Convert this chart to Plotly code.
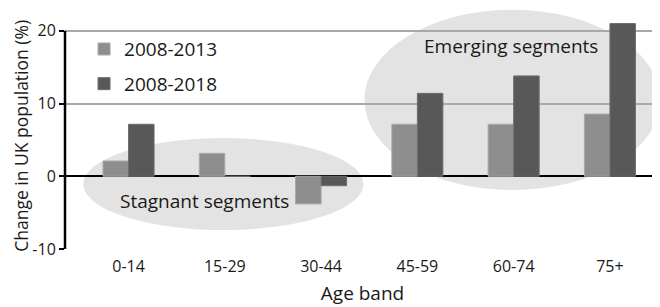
import plotly.graph_objects as go

categories = ["0-14", "15-29", "30-44", "45-59", "60-74", "75+"]
change_2013 = [2.1, 3.15, -3.8, 7.15, 7.15, 8.55]
change_2018 = [7.15, 0.0, -1.3, 11.4, 13.8, 21.0]
y_ticks = [-10, 0, 10, 20]

FONT = "Open Sans"

fig = go.Figure()
fig.add_trace(go.Bar(x=categories, y=change_2013, name="2008-2013", legendgroup="a",
                     marker=dict(color="#8e8e8e", line=dict(color="#a8a8a8", width=1)),
                     cliponaxis=False))
fig.add_trace(go.Bar(x=categories, y=change_2018, name="2008-2018", legendgroup="b",
                     marker=dict(color="#585858", line=dict(color="#6e6e6e", width=1)),
                     cliponaxis=False))

# highlight ellipses
fig.add_shape(type="circle", xref="x", yref="y", x0=-0.47, x1=2.44, y0=-7.4, y1=5.25,
              fillcolor="#e3e3e3", line=dict(width=0), layer="below")
fig.add_shape(type="circle", xref="x", yref="y", x0=2.45, x1=5.52, y0=-1.9, y1=22.9,
              fillcolor="#e3e3e3", line=dict(width=0), layer="below")
# left axis line from -10 to 20
fig.add_shape(type="line", xref="paper", yref="y", x0=0, x1=0, y0=-10, y1=20,
              line=dict(color="black", width=2.5))

fig.add_annotation(x=3.97, y=17.9, xref="x", yref="y", text="Emerging segments",
                   showarrow=False, font=dict(family=FONT, size=19, color="#1a1a1a"))
fig.add_annotation(x=0.79, y=-3.45, xref="x", yref="y", text="Stagnant segments",
                   showarrow=False, font=dict(family=FONT, size=19, color="#1a1a1a"))
# y-axis title
fig.add_annotation(x=-0.073, y=0.47, xref="paper", yref="paper", xanchor="center",
                   yanchor="middle", textangle=-90, text="Change in UK population (%)",
                   showarrow=False, font=dict(family=FONT, size=17.5, color="#1a1a1a"))

# page body has an 8px default margin, so the figure is sized to fit the window
fig.update_layout(
    width=652, height=299,
    margin=dict(l=57, r=0, t=1, b=58, autoexpand=False),
    paper_bgcolor="white", plot_bgcolor="white",
    barmode="group", bargap=0.47, bargroupgap=0,
    font=dict(family=FONT, color="#1a1a1a"),
    legend=dict(x=0.032, y=0.912, xanchor="left", yanchor="top",
                font=dict(family=FONT, size=19), bgcolor="rgba(0,0,0,0)",
                traceorder="grouped", tracegroupgap=7, itemwidth=30),
    xaxis=dict(range=[-0.66, 5.52], showgrid=False, showline=False, ticks="",
               automargin=False, ticklabelstandoff=6,
               tickfont=dict(family=FONT, size=16),
               title=dict(text="Age band", font=dict(family=FONT, size=19), standoff=10)),
    yaxis=dict(range=[-10, 23], tickvals=y_ticks, ticktext=[str(v) for v in y_ticks],
               automargin=False,
               showgrid=True, gridcolor="#a8a8a8", gridwidth=1.5,
               zeroline=True, zerolinecolor="black", zerolinewidth=2,
               showline=False, ticks="outside", ticklen=5, tickwidth=2, tickcolor="black",
               tickfont=dict(family=FONT, size=16)),
)

fig.write_html("out.html")
